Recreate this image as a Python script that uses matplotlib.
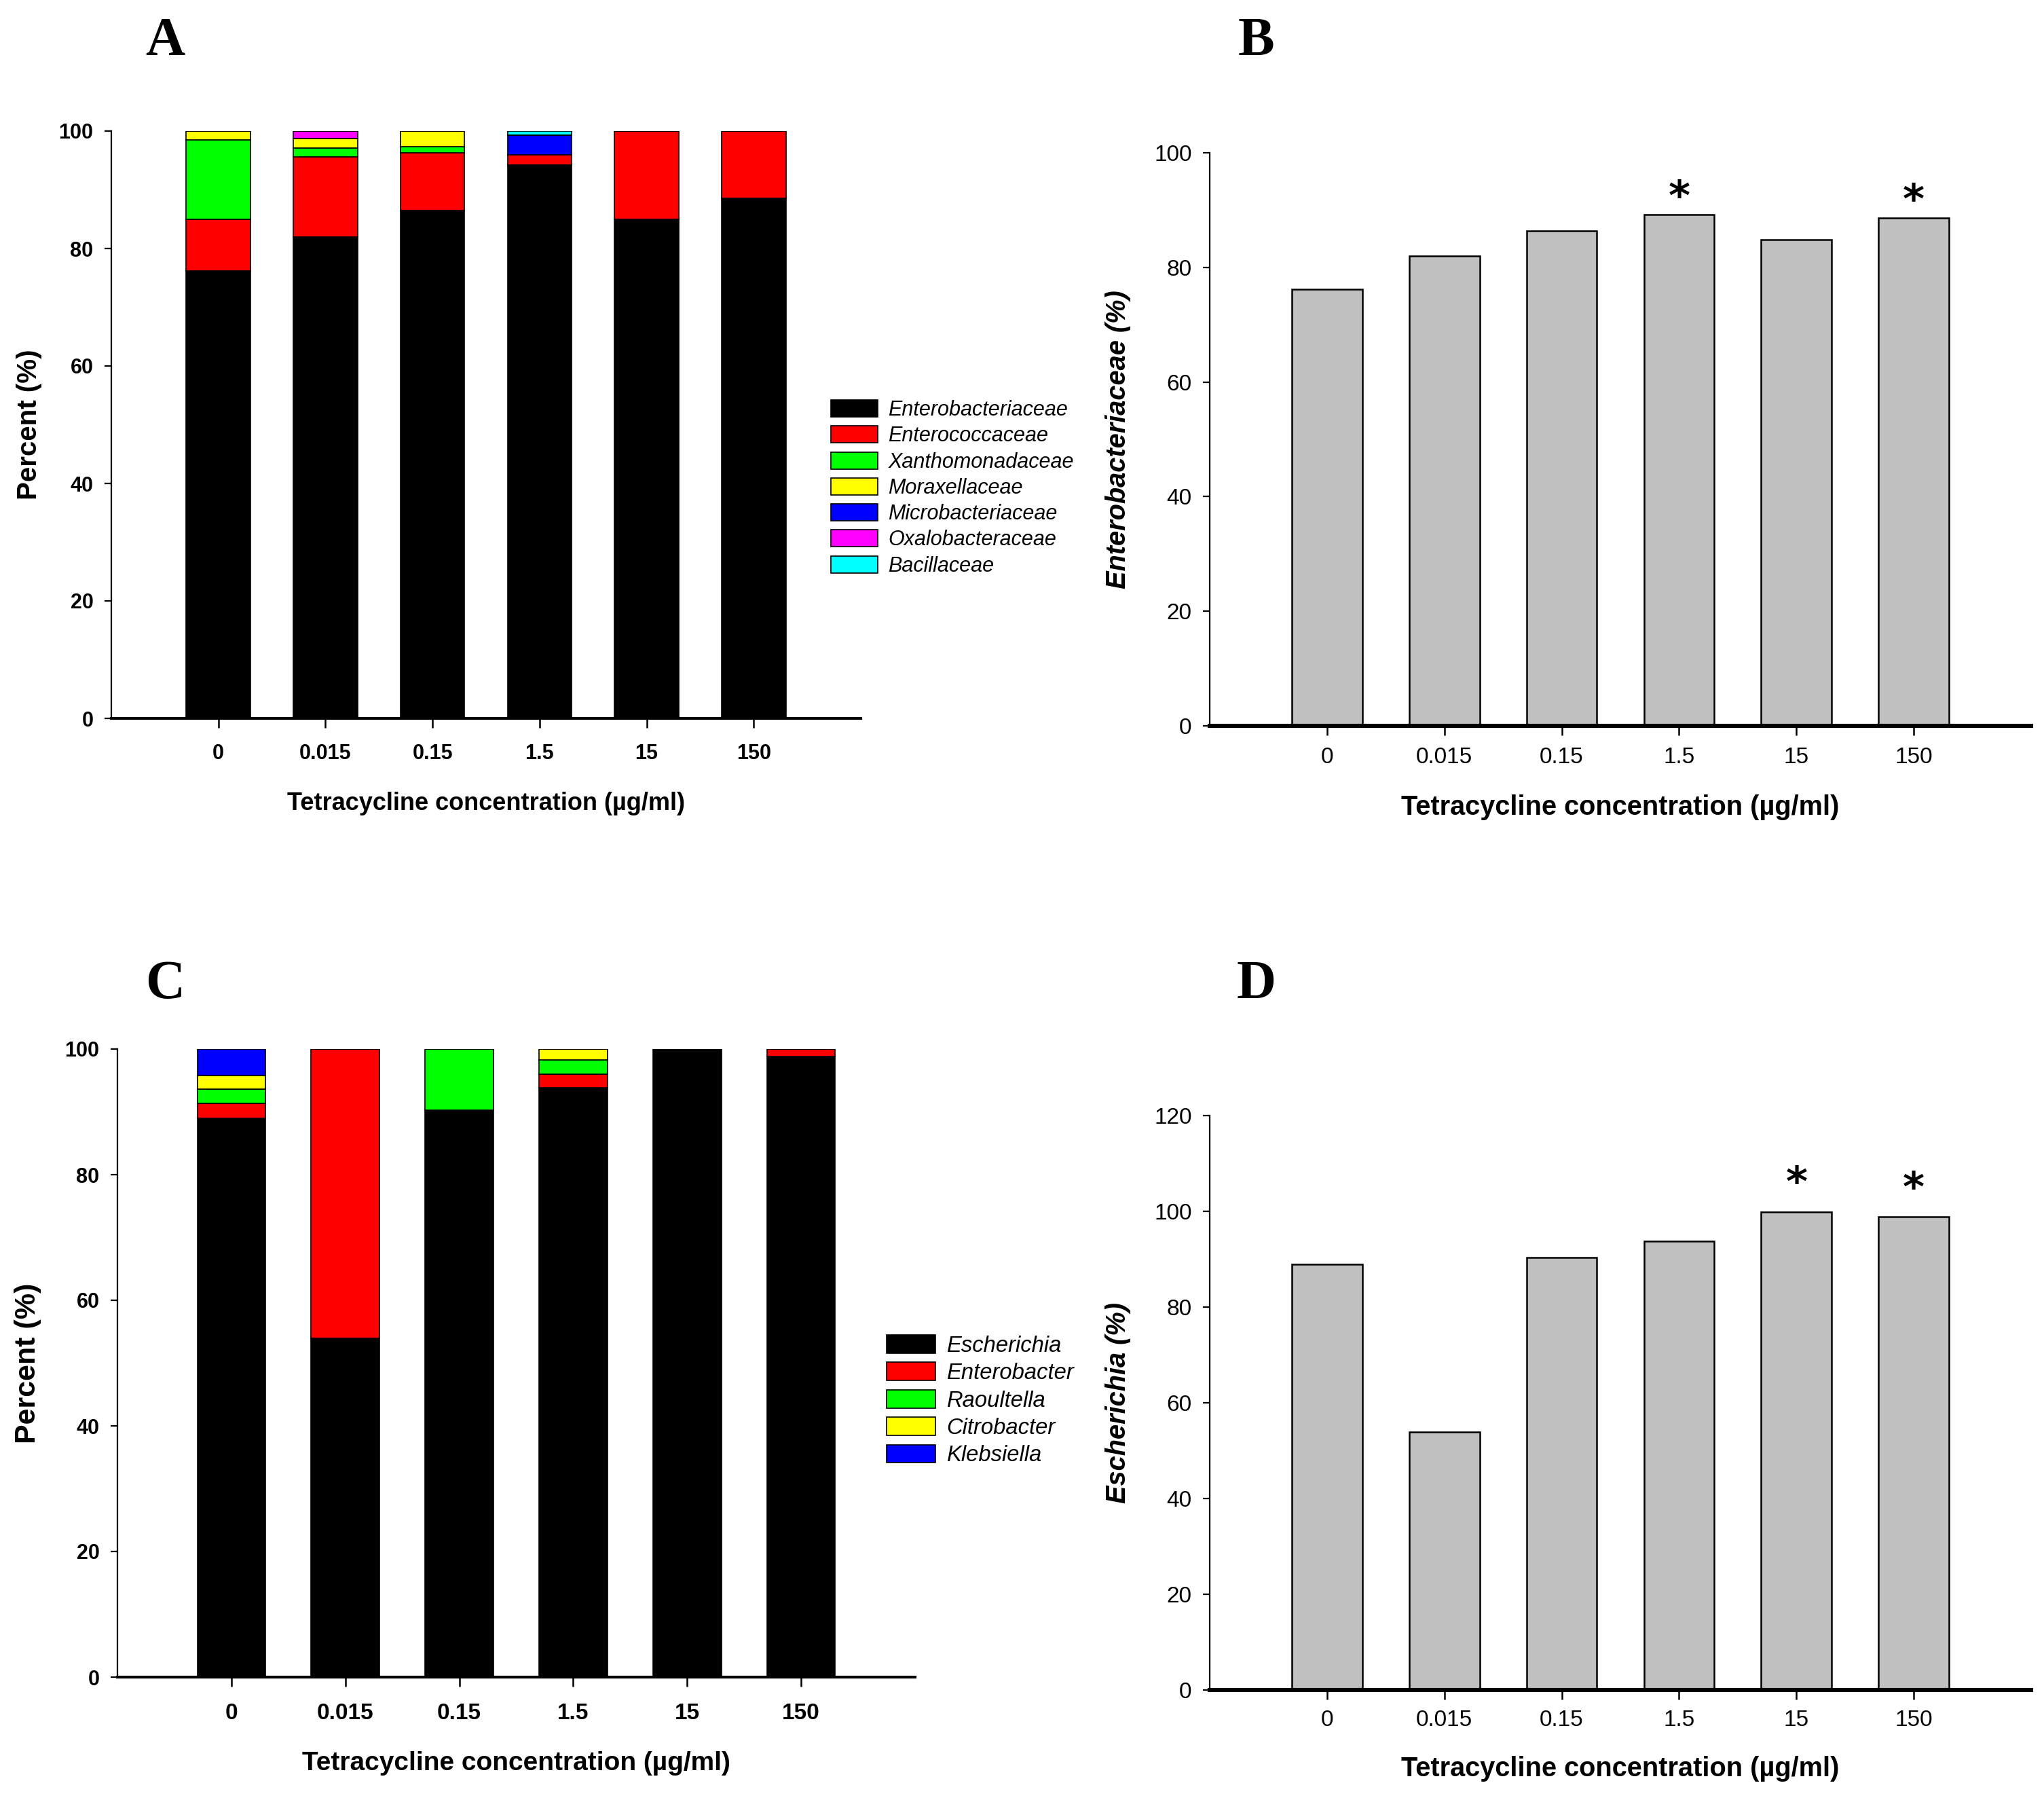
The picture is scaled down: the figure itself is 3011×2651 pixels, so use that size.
import matplotlib
matplotlib.use("Agg")
import matplotlib.pyplot as plt
import numpy as np

plt.rcParams['font.family'] = ['Liberation Sans', 'DejaVu Sans']

# ---------------- data ----------------
concentrations = ['0', '0.015', '0.15', '1.5', '15', '150']

# Panel A: family composition (%)
family_names = ['Enterobacteriaceae', 'Enterococcaceae', 'Xanthomonadaceae',
                'Moraxellaceae', 'Microbacteriaceae', 'Oxalobacteraceae', 'Bacillaceae']
enterobacteriaceae = [76.2, 82.0, 86.5, 94.2, 85.0, 88.6]
enterococcaceae    = [8.8, 13.6, 9.8, 1.8, 15.0, 11.4]
xanthomonadaceae   = [13.5, 1.5, 1.0, 0.0, 0.0, 0.0]
moraxellaceae      = [1.5, 1.6, 2.7, 0.0, 0.0, 0.0]
microbacteriaceae  = [0.0, 0.0, 0.0, 3.3, 0.0, 0.0]
oxalobacteraceae   = [0.0, 1.3, 0.0, 0.0, 0.0, 0.0]
bacillaceae        = [0.0, 0.0, 0.0, 0.7, 0.0, 0.0]
family_colors = ['#000000', '#FF0000', '#00FF00', '#FFFF00', '#0000FF', '#FF00FF', '#00FFFF']

# Panel B: Enterobacteriaceae (%)
entero_pct = [76.2, 82.0, 86.4, 89.2, 84.8, 88.6]
entero_sig = [False, False, False, True, False, True]

# Panel C: genus composition (%)
genus_names = ['Escherichia', 'Enterobacter', 'Raoultella', 'Citrobacter', 'Klebsiella']
escherichia  = [89.0, 53.9, 90.3, 93.8, 100.0, 98.8]
enterobacter = [2.4, 46.1, 0.0, 2.2, 0.0, 1.2]
raoultella   = [2.2, 0.0, 9.7, 2.3, 0.0, 0.0]
citrobacter  = [2.2, 0.0, 0.0, 1.7, 0.0, 0.0]
klebsiella   = [4.2, 0.0, 0.0, 0.0, 0.0, 0.0]
genus_colors = ['#000000', '#FF0000', '#00FF00', '#FFFF00', '#0000FF']

# Panel D: Escherichia (%)
esch_pct = [88.9, 53.9, 90.3, 93.8, 99.9, 98.8]
esch_sig = [False, False, False, False, True, True]

xlabel = 'Tetracycline concentration (\u00b5g/ml)'

# ---------------- figure ----------------
W, H = 3011, 2651
DPI = 200
fig = plt.figure(figsize=(W / DPI, H / DPI), dpi=DPI)


def ax_px(l, r, b, t):
    return fig.add_axes([l / W, 1 - b / H, (r - l) / W, (b - t) / H])


axA = ax_px(164, 1268, 1058, 193)
axB = ax_px(1782, 2992, 1069, 225)
axC = ax_px(173, 1348, 2470, 1545)
axD = ax_px(1782, 2992, 2489, 1643)

x = np.arange(len(concentrations))
bw = 0.6


def style_axes(ax, tick_bold, xt_size, yt_size, bottom_lw, ymax, ystep, xpad):
    ax.set_xlim(-1, 6)
    ax.set_ylim(0, ymax)
    for s in ['top', 'right']:
        ax.spines[s].set_visible(False)
    ax.spines['left'].set_linewidth(0.8)
    ax.spines['bottom'].set_linewidth(bottom_lw)
    ax.set_xticks(x)
    ax.set_xticklabels(concentrations, fontsize=xt_size,
                       fontweight='bold' if tick_bold else 'normal')
    ax.set_yticks(np.arange(0, ymax + 0.1, ystep))
    ax.set_yticklabels([str(int(v)) for v in np.arange(0, ymax + 0.1, ystep)],
                       fontsize=yt_size, fontweight='bold' if tick_bold else 'normal')
    ax.tick_params(axis='x', direction='out', length=5, width=0.9, pad=xpad)
    ax.tick_params(axis='y', direction='out', length=3.5, width=0.8, pad=6)


def stacked(ax, series, colors, names):
    bottom = np.zeros(len(concentrations))
    for vals, c, n in zip(series, colors, names):
        vals = np.array(vals)
        ax.bar(x, vals, bw, bottom=bottom, color=c, edgecolor='black',
               linewidth=0.6, label=n, zorder=2)
        bottom += vals


# ---- Panel A ----
stacked(axA, [enterobacteriaceae, enterococcaceae, xanthomonadaceae, moraxellaceae,
              microbacteriaceae, oxalobacteraceae, bacillaceae], family_colors, family_names)
style_axes(axA, True, 11, 11, 1.5, 100, 20, 8.5)
axA.set_xlabel(xlabel, fontsize=13, fontweight='bold')
axA.xaxis.set_label_coords(0.5, -0.125)
axA.set_ylabel('Percent (%)', fontsize=14.5, fontweight='bold')
axA.yaxis.set_label_coords(-0.092, 0.5)
axA.legend(loc='upper left', bbox_to_anchor=(1224 / W, 1 - 589 / H),
           bbox_transform=fig.transFigure, frameon=False,
           prop={'style': 'italic', 'size': 11}, handlelength=2.26,
           handleheight=0.88, handletextpad=0.5, labelspacing=0.27,
           borderpad=0, borderaxespad=0)

# ---- Panel B ----
axB.bar(x, entero_pct, bw, color='#C0C0C0', edgecolor='black', linewidth=0.9, zorder=2)
style_axes(axB, False, 12, 12, 2.2, 100, 20, 6)
for xi, v, s in zip(x, entero_pct, entero_sig):
    if s:
        axB.text(xi, v - 0.7, '*', ha='center', va='bottom', fontsize=22,
                 fontweight='bold', family='DejaVu Sans')
axB.set_xlabel(xlabel, fontsize=14.3, fontweight='bold')
axB.xaxis.set_label_coords(0.5, -0.12)
axB.set_ylabel('Enterobacteriaceae (%)', fontsize=14.3, fontweight='bold', style='italic')
axB.yaxis.set_label_coords(-0.096, 0.5)

# ---- Panel C ----
stacked(axC, [escherichia, enterobacter, raoultella, citrobacter, klebsiella],
        genus_colors, genus_names)
style_axes(axC, True, 12, 11, 1.5, 100, 20, 8.5)
axC.set_xlabel(xlabel, fontsize=14, fontweight='bold')
axC.xaxis.set_label_coords(0.5, -0.118)
axC.set_ylabel('Percent (%)', fontsize=15.5, fontweight='bold')
axC.yaxis.set_label_coords(-0.095, 0.5)
axC.legend(loc='upper left', bbox_to_anchor=(1306 / W, 1 - 1966 / H),
           bbox_transform=fig.transFigure, frameon=False,
           prop={'style': 'italic', 'size': 11.8}, handlelength=2.2,
           handleheight=0.88, handletextpad=0.5, labelspacing=0.265,
           borderpad=0, borderaxespad=0)

# ---- Panel D ----
axD.bar(x, esch_pct, bw, color='#C0C0C0', edgecolor='black', linewidth=0.9, zorder=2)
style_axes(axD, False, 12, 12, 2.2, 120, 20, 5.5)
for xi, v, s in zip(x, esch_pct, esch_sig):
    if s:
        axD.text(xi, v + 1.5, '*', ha='center', va='bottom', fontsize=22,
                 fontweight='bold', family='DejaVu Sans')
axD.set_xlabel(xlabel, fontsize=14.3, fontweight='bold')
axD.xaxis.set_label_coords(0.5, -0.115)
axD.set_ylabel('Escherichia (%)', fontsize=14.3, fontweight='bold', style='italic')
axD.yaxis.set_label_coords(-0.096, 0.5)

# ---- panel letters ----
for lab, px, py in [('A', 243, 81), ('B', 1851, 81), ('C', 243, 1470), ('D', 1851, 1470)]:
    fig.text(px / W, 1 - py / H, lab, ha='center', va='baseline', fontsize=29,
             fontweight='bold', family=['Liberation Serif', 'DejaVu Serif'])

fig.savefig('out.png', dpi=DPI)
